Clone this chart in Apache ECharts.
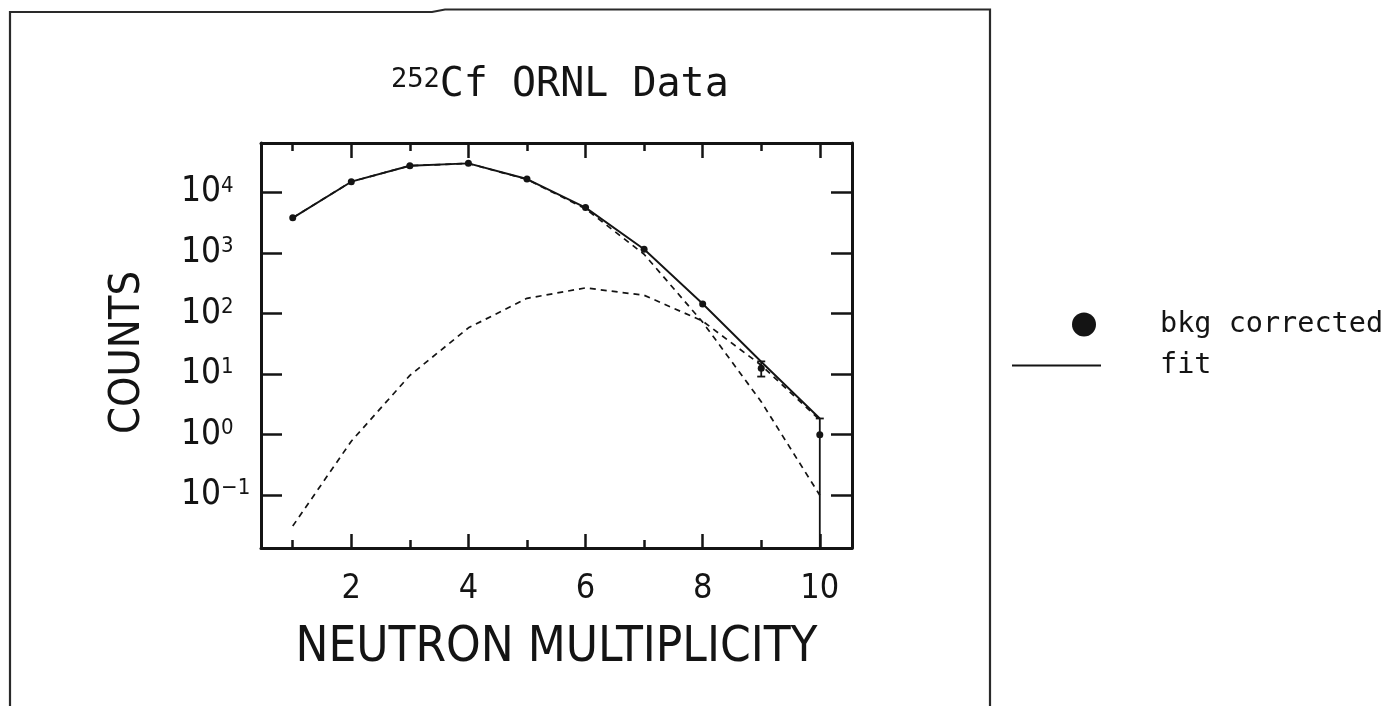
<!DOCTYPE html>
<html><head><meta charset="utf-8">
<script src="https://cdn.jsdelivr.net/npm/echarts@6/dist/echarts.min.js"></script>
<style>html,body{margin:0;padding:0;background:#fff}#c{width:1391px;height:706px}</style>
</head><body><div id="c"></div>
<script>
// ---- data ----
const multiplicity = [1, 2, 3, 4, 5, 6, 7, 8, 9, 10];
const bkgCorrected = [3800, 15000, 27500, 30100, 16600, 5650, 1155, 144, 12.5, 1.0];
const fitTotal     = [3800, 15000, 27500, 30100, 16600, 5600, 1150, 145, 16, 1.85];
const fitCompA     = [0.031, 0.78, 9.5, 58, 178, 265, 200, 75, 14, 1.75];
const fitCompB     = [3800, 15000, 27500, 30000, 16400, 5350, 950, 72, 3.5, 0.1];
const errX    = [9, 10];
const errLow  = [9.1, 0.001];
const errHigh = [16.2, 1.85];
const titleSup = '252';
const titleMain = 'Cf ORNL Data';
const xName = 'NEUTRON MULTIPLICITY';
const yName = 'COUNTS';
const legendNames = ['bkg corrected', 'fit'];

const INK = '#141414';
const COND = "'DejaVu Sans Condensed','Liberation Sans Narrow','DejaVu Sans',sans-serif";
const MONO = "'DejaVu Sans Mono','Liberation Mono',monospace";

const pairs = arr => multiplicity.map((x, i) => [x, arr[i]]);
const errData = errX.map((x, i) => [x, errLow[i], errHigh[i]]);

const chart = echarts.init(document.getElementById('c'), null, {renderer: 'canvas'});

const xCommon = {
  type: 'value', min: 0.458, max: 10.55, splitNumber: 5,
  axisLine: {show: true, lineStyle: {color: INK, width: 3}},
  splitLine: {show: false},
  minorTick: {show: true, splitNumber: 2, length: 8, lineStyle: {color: INK, width: 2.5}},
  minorSplitLine: {show: false}
};
const yCommon = {
  type: 'log', min: 0.01346, max: 65300, logBase: 10,
  axisLine: {show: true, lineStyle: {color: INK, width: 3}},
  splitLine: {show: false},
  axisTick: {show: true, inside: true, length: 21, lineStyle: {color: INK, width: 2.5}}
};

const option = {
  backgroundColor: '#ffffff',
  animation: false,
  title: {
    text: '{s|' + titleSup + '}{m|' + titleMain + '}',
    left: 386, top: 61,
    textStyle: {
      fontWeight: 'normal',
      rich: {
        s: {fontFamily: MONO, fontSize: 27, color: INK, fontWeight: 'normal', verticalAlign: 'top'},
        m: {fontFamily: MONO, fontSize: 40, color: INK, fontWeight: 'normal'}
      }
    }
  },
  legend: [
    {
      data: [{name: legendNames[0], icon: 'circle'}],
      left: 1072, top: 310, padding: 0,
      itemWidth: 24, itemHeight: 24,
      itemStyle: {color: INK, opacity: 1},
      textStyle: {fontFamily: MONO, fontSize: 28.5, color: INK, padding: [18, 0, 0, 59]},
      selectedMode: false
    },
    {
      data: [{name: legendNames[1], icon: 'rect'}],
      left: 1012, top: 351, padding: 0,
      itemWidth: 89, itemHeight: 2,
      textStyle: {fontFamily: MONO, fontSize: 28.5, color: INK, padding: [10, 0, 0, 54]},
      selectedMode: false
    }
  ],
  grid: {left: 261, top: 143, width: 591, height: 405, containLabel: false, outerBoundsMode: 'none'},
  xAxis: [
    Object.assign({}, xCommon, {
      position: 'bottom',
      axisTick: {show: true, inside: true, length: 14, lineStyle: {color: INK, width: 2.5}},
      axisLabel: {show: true, color: INK, fontFamily: COND, fontSize: 34, margin: 24,
                  showMinLabel: false, showMaxLabel: false},
      name: xName, nameLocation: 'middle', nameGap: 76,
      nameTextStyle: {color: INK, fontFamily: COND, fontSize: 49}
    }),
    Object.assign({}, xCommon, {
      position: 'top',
      axisTick: {show: true, inside: true, length: 15, lineStyle: {color: INK, width: 2.5}},
      axisLabel: {show: false}
    })
  ],
  yAxis: [
    Object.assign({}, yCommon, {
      position: 'left',
      axisLabel: {
        show: true, margin: 80, align: 'left', showMinLabel: false, showMaxLabel: false,
        formatter: v => {
          const e = Math.round(Math.log10(v));
          return '{b|10}{s|' + (e < 0 ? '\u2212' + (-e) : e) + '}';
        },
        rich: {
          b: {fontFamily: COND, fontSize: 35, color: INK},
          s: {fontFamily: COND, fontSize: 22, color: INK, verticalAlign: 'top'}
        }
      },
      name: yName, nameLocation: 'middle', nameGap: 112, nameRotate: 90,
      nameTextStyle: {color: INK, fontFamily: COND, fontSize: 43, padding: [0, 14, 0, 0]}
    }),
    Object.assign({}, yCommon, {
      position: 'right',
      axisLabel: {show: false}
    })
  ],
  series: [
    {
      name: legendNames[1], type: 'line', xAxisIndex: 0, yAxisIndex: 0,
      data: pairs(fitTotal), showSymbol: false, symbol: 'none',
      lineStyle: {color: INK, width: 1.9}, itemStyle: {color: INK}, z: 3
    },
    {
      name: 'component A', type: 'line', xAxisIndex: 0, yAxisIndex: 0,
      data: pairs(fitCompA), showSymbol: false, symbol: 'none',
      lineStyle: {color: INK, width: 1.7, type: [6, 5]}, z: 2
    },
    {
      name: 'component B', type: 'line', xAxisIndex: 0, yAxisIndex: 0,
      data: pairs(fitCompB), showSymbol: false, symbol: 'none',
      lineStyle: {color: INK, width: 1.7, type: [6, 5]}, z: 2
    },
    {
      name: legendNames[0], type: 'scatter', xAxisIndex: 0, yAxisIndex: 0,
      data: pairs(bkgCorrected), symbol: 'circle', symbolSize: 7,
      itemStyle: {color: INK, opacity: 1}, z: 4
    },
    {
      name: 'error', type: 'custom', xAxisIndex: 0, yAxisIndex: 0, clip: true,
      data: errData, z: 4,
      renderItem: (params, api) => {
        const x = api.value(0);
        const lo = api.coord([x, api.value(1)]);
        const hi = api.coord([x, api.value(2)]);
        const cap = 4;
        const st = {stroke: INK, lineWidth: 1.8};
        return {type: 'group', children: [
          {type: 'line', shape: {x1: hi[0], y1: hi[1], x2: lo[0], y2: lo[1]}, style: st},
          {type: 'line', shape: {x1: hi[0] - cap, y1: hi[1], x2: hi[0] + cap, y2: hi[1]}, style: st},
          {type: 'line', shape: {x1: lo[0] - cap, y1: lo[1], x2: lo[0] + cap, y2: lo[1]}, style: st}
        ]};
      }
    }
  ],
  graphic: [
    {
      type: 'polyline', silent: true,
      shape: {points: [[10, 720], [10, 12], [432, 12], [445, 9.5], [990, 9.5], [990, 720]]},
      style: {stroke: '#2a2a2a', lineWidth: 2.2, fill: null}
    }
  ]
};
chart.setOption(option);
</script>
</body></html>
